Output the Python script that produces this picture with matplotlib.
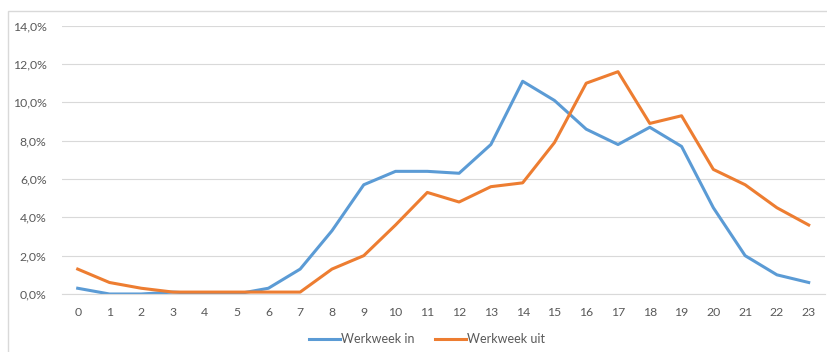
import matplotlib
matplotlib.use("Agg")
import matplotlib.pyplot as plt
from matplotlib.patches import Rectangle
from matplotlib.ticker import FuncFormatter

hours = list(range(24))
werkweek_in = [0.3, 0.0, 0.0, 0.1, 0.0, 0.0, 0.3, 1.3, 3.3, 5.7, 6.4, 6.4,
               6.3, 7.8, 11.1, 10.1, 8.6, 7.8, 8.7, 7.7, 4.5, 2.0, 1.0, 0.6]
werkweek_uit = [1.3, 0.6, 0.3, 0.1, 0.1, 0.1, 0.1, 0.1, 1.3, 2.0, 3.6, 5.3,
                4.8, 5.6, 5.8, 7.9, 11.0, 11.6, 8.9, 9.3, 6.5, 5.7, 4.5, 3.6]
series_names = ["Werkweek in", "Werkweek uit"]
y_ticks = [0, 2, 4, 6, 8, 10, 12, 14]

W, H = 827, 352
fig = plt.figure(figsize=(W / 100, H / 100), dpi=100)
plt.rcParams["font.family"] = ["Lato", "DejaVu Sans"]

# chart frame
fig.patches.append(Rectangle((8 / W, -0.1), 1.2, 1.1 - 11 / H,
                             transform=fig.transFigure, fill=False,
                             edgecolor="#D9D9D9", linewidth=1.0))

ax = fig.add_axes([61.8 / W, 58 / H, (824.6 - 61.8) / W, (294 - 25.7) / H])
ax.plot(hours, werkweek_in, color="#5B9BD5", lw=2.2, label=series_names[0],
        solid_joinstyle="round")
ax.plot(hours, werkweek_uit, color="#ED7D31", lw=2.2, label=series_names[1],
        solid_joinstyle="round")

ax.set_xlim(-0.5, 23.5)
ax.set_ylim(0, 14)
ax.set_xticks(hours)
ax.set_yticks(y_ticks)
ax.yaxis.set_major_formatter(FuncFormatter(lambda v, p: f"{v:.1f}".replace(".", ",") + "%"))
ax.grid(axis="y", color="#D9D9D9", lw=0.8)
ax.set_axisbelow(True)
for s in ["top", "right", "left"]:
    ax.spines[s].set_visible(False)
ax.spines["bottom"].set_color("#D9D9D9")
ax.tick_params(axis="both", length=0, labelsize=8.8, labelcolor="#595959")
ax.tick_params(axis="x", pad=9)
ax.tick_params(axis="y", pad=11)

leg = fig.legend(loc="center", bbox_to_anchor=(427 / W, 1 - 339 / H), ncol=2,
                 frameon=False, fontsize=9, handlelength=2.5, handletextpad=0.1,
                 columnspacing=1.6)
for t in leg.get_texts():
    t.set_color("#595959")

fig.savefig("out.png", dpi=100)
